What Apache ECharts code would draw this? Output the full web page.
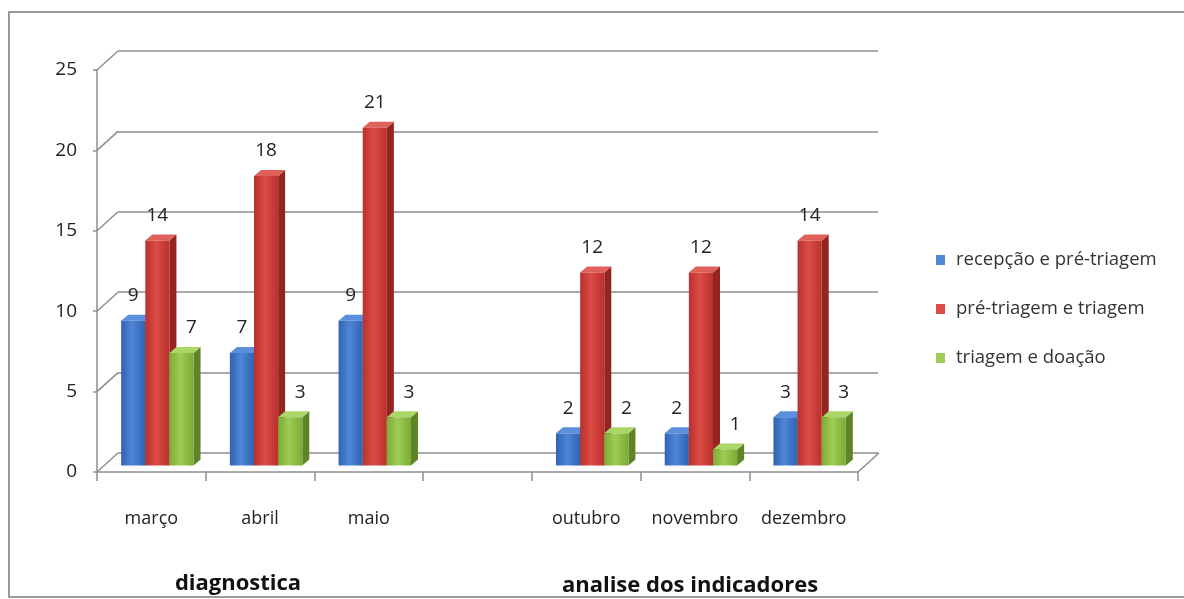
<!DOCTYPE html>
<html>
<head>
<meta charset="utf-8">
<title>Tempos por etapa</title>
<script src="https://cdn.jsdelivr.net/npm/echarts@6/dist/echarts.min.js"></script>
<style>
  html, body { margin: 0; padding: 0; background: #ffffff; }
  #chart { width: 1184px; height: 599px; }
</style>
</head>
<body>
<div id="chart"></div>
<script>
// Months on the category axis (the blank one separates the two phases)
const categories = ['março', 'abril', 'maio', '', 'outubro', 'novembro', 'dezembro'];
const seriesNames = ['recepção e pré-triagem', 'pré-triagem e triagem', 'triagem e doação'];
const recepcaoPreTriagem = [9, 7, 9, null, 2, 2, 3];
const preTriagemTriagem = [14, 18, 21, null, 12, 12, 14];
const triagemDoacao = [7, 3, 3, null, 2, 1, 3];
const yTicks = [0, 5, 10, 15, 20, 25];
const groupLabels = ['diagnostica', 'analise dos indicadores'];

const FONT = "'Open Sans', 'DejaVu Sans', sans-serif";
const GRID_COLOR = '#8e8e8e';
const TEXT_COLOR = '#222222';

// Face colours per series: front gradient (edge, centre), side, top
const palettes = [
  { edge: '#2f63b4', mid: '#4f86d6', side: '#244f92', top: '#5b8fdc' },
  { edge: '#b9302c', mid: '#dc4c46', side: '#93241f', top: '#e0605a' },
  { edge: '#7cab36', mid: '#9dcd55', side: '#5f8427', top: '#acd667' }
];
const labelShift = [0, 0, 10];

const seriesValues = [recepcaoPreTriagem, preTriagemTriagem, triagemDoacao];

// Bar depth and placement inside the 3D box
const DEPTH_X = 21, DEPTH_Y = -19;   // full box depth
const BAR_DX = 7, BAR_DY = -6;       // bar thickness along depth
const PLANE_DX = 6, PLANE_DY = -6.5; // bar front plane offset from box front

function makeBarRenderer(k) {
  return function (params, api) {
    const ci = api.value(0);
    const v = api.value(1);
    const base = api.coord([ci, 0]);
    const top = api.coord([ci, v]);
    const W = api.size([1, 0])[0];
    const bw = W * 0.222;
    const x0 = base[0] + PLANE_DX - 1.5 * bw + k * bw;
    const yb = base[1] + PLANE_DY;
    const yt = top[1] + PLANE_DY;
    const p = palettes[k];
    return {
      type: 'group',
      children: [
        {
          type: 'polygon',
          shape: { points: [[x0 + bw, yb], [x0 + bw + BAR_DX, yb + BAR_DY], [x0 + bw + BAR_DX, yt + BAR_DY], [x0 + bw, yt]] },
          style: { fill: p.side }
        },
        {
          type: 'polygon',
          shape: { points: [[x0, yt], [x0 + BAR_DX, yt + BAR_DY], [x0 + bw + BAR_DX, yt + BAR_DY], [x0 + bw, yt]] },
          style: { fill: p.top }
        },
        {
          type: 'rect',
          shape: { x: x0, y: yt, width: bw, height: yb - yt },
          style: {
            fill: new echarts.graphic.LinearGradient(0, 0, 1, 0, [
              { offset: 0, color: p.edge },
              { offset: 0.45, color: p.mid },
              { offset: 1, color: p.edge }
            ])
          }
        },
        {
          type: 'text',
          style: {
            text: String(v),
            x: x0 + bw / 2 + labelShift[k],
            y: yt - 25,
            align: 'center',
            verticalAlign: 'middle',
            fontSize: 19,
            fontFamily: FONT,
            fill: TEXT_COLOR
          }
        }
      ]
    };
  };
}

// Depth connectors from each front tick to the back wall, plus the floor's right edge
function renderDepthLines(params, api) {
  const v = api.value(0);
  const side = api.value(1); // 0 = left edge, 1 = right edge
  const W = api.size([1, 0])[0];
  const ci = side === 0 ? 0 : categories.length - 1;
  const p = api.coord([ci, v]);
  const x = side === 0 ? p[0] - W / 2 : p[0] + W / 2;
  return {
    type: 'line',
    shape: { x1: x, y1: p[1], x2: x + DEPTH_X, y2: p[1] + DEPTH_Y },
    style: { stroke: GRID_COLOR, lineWidth: 1.5 }
  };
}

const depthData = yTicks.map(t => [t, 0]).concat([[0, 1]]);

const barSeries = seriesValues.map((vals, k) => ({
  type: 'custom',
  name: seriesNames[k],
  xAxisIndex: 1,
  yAxisIndex: 1,
  renderItem: makeBarRenderer(k),
  encode: { x: 0, y: 1 },
  itemStyle: { color: palettes[k].mid },
  data: vals.map((v, i) => [i, v]).filter(d => d[1] !== null),
  z: 3
}));

const chart = echarts.init(document.getElementById('chart'), null, { renderer: 'canvas' });

chart.setOption({
  animation: false,
  backgroundColor: '#ffffff',
  grid: [
    // back wall
    { left: 118, top: 51, width: 760, height: 402 },
    // front plane
    { left: 97, top: 70, width: 761, height: 402 }
  ],
  xAxis: [
    { gridIndex: 0, type: 'category', data: categories, show: false },
    {
      gridIndex: 1,
      type: 'category',
      data: categories,
      axisLine: { lineStyle: { color: GRID_COLOR, width: 1.5 } },
      axisTick: { show: true, interval: 0, length: 9, lineStyle: { color: GRID_COLOR, width: 1.5 } },
      axisLabel: { interval: 0, margin: 38, fontSize: 18, fontFamily: FONT, color: TEXT_COLOR },
      splitLine: { show: false }
    }
  ],
  yAxis: [
    {
      gridIndex: 0,
      type: 'value',
      min: 0, max: 25, interval: 5,
      axisLabel: { show: false },
      axisLine: { show: false },
      axisTick: { show: false },
      splitLine: { show: true, lineStyle: { color: GRID_COLOR, width: 1.5 } }
    },
    {
      gridIndex: 1,
      type: 'value',
      min: 0, max: 25, interval: 5,
      axisLine: { show: true, lineStyle: { color: GRID_COLOR, width: 1.5 } },
      axisTick: { show: true, length: 4, lineStyle: { color: GRID_COLOR, width: 1.5 } },
      axisLabel: { margin: 20, fontSize: 19, fontFamily: FONT, color: TEXT_COLOR },
      splitLine: { show: false }
    }
  ],
  legend: {
    orient: 'vertical',
    left: 931,
    top: 244,
    itemWidth: 9,
    itemHeight: 10,
    itemGap: 27,
    icon: 'rect',
    data: seriesNames,
    textStyle: { fontSize: 18.5, fontFamily: FONT, color: '#333333', padding: [0, 0, 0, 6], lineHeight: 22 }
  },
  graphic: [
    {
      type: 'rect',
      shape: { x: 9, y: 12, width: 1200, height: 585 },
      style: { fill: 'none', stroke: '#9a9a9a', lineWidth: 2 },
      silent: true,
      z: -1
    },
    {
      type: 'text',
      x: 238, y: 584,
      style: { text: groupLabels[0], align: 'center', verticalAlign: 'middle', fontSize: 22, fontWeight: 'bold', fontFamily: FONT, fill: '#111111' }
    },
    {
      type: 'text',
      x: 690, y: 586,
      style: { text: groupLabels[1], align: 'center', verticalAlign: 'middle', fontSize: 22, fontWeight: 'bold', fontFamily: FONT, fill: '#111111' }
    }
  ],
  series: [
    {
      type: 'custom',
      name: 'depth',
      xAxisIndex: 1,
      yAxisIndex: 1,
      renderItem: renderDepthLines,
      encode: { y: 0 },
      data: depthData,
      silent: true,
      z: 1
    }
  ].concat(barSeries)
});
</script>
</body>
</html>
